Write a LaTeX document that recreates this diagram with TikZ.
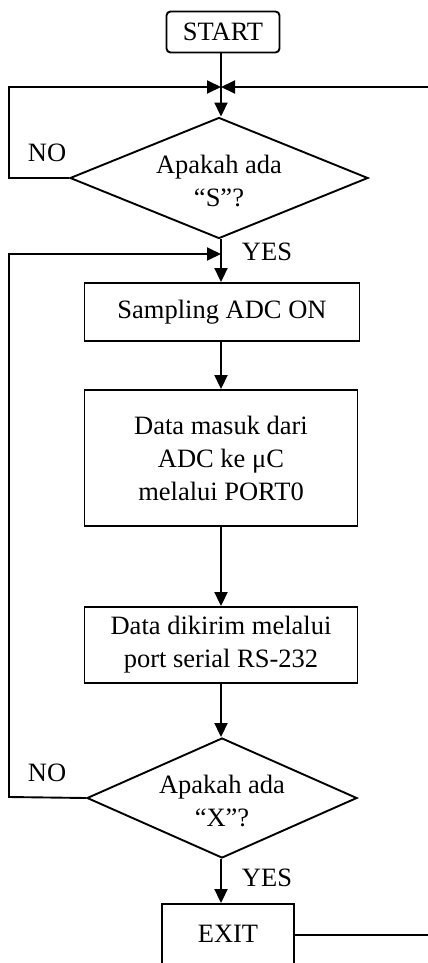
\documentclass[tikz,border=0pt]{standalone}
\usepackage{fontspec}
\setmainfont{Liberation Serif}
\usetikzlibrary{shapes.geometric,arrows.meta}
\begin{document}
\begin{tikzpicture}[x=1pt,y=-1pt,
  line width=1.9pt,
  every node/.style={font=\fontsize{26.5}{33}\selectfont, align=center},
  flow/.style={-{Triangle[length=14pt,width=13pt]}},
  procbox/.style={draw, rectangle, inner sep=0pt},
  decision/.style={draw, diamond, inner sep=0pt},
  lbl/.style={inner sep=0pt}
]
\useasboundingbox (0,0) rectangle (428,963);
\begin{scope}
\clip (0,0) rectangle (428,963);

% terminal and process blocks
\node[procbox, rounded corners=4pt, minimum width=113pt, minimum height=41pt] (start) at (223,32) {START};
\node[decision, minimum width=298pt, minimum height=121pt] (d1) at (219,178) {};
\node at (219,181) {Apakah ada\\“S”?};
\node[procbox, minimum width=275pt, minimum height=58pt] (s1) at (222,312) {Sampling ADC ON};
\node[procbox, minimum width=273pt, minimum height=136pt] (b2) at (221,458) {Data masuk dari\\ADC ke μC\\melalui PORT0};
\node[procbox, minimum width=273pt, minimum height=76pt] (b3) at (221,645) {Data dikirim melalui\\port serial RS-232};
\node[decision, minimum width=270pt, minimum height=120pt] (d2) at (222,798) {};
\node at (222,801) {Apakah ada\\“X”?};
\node[procbox, minimum width=132pt, minimum height=90pt] (exit) at (228,949) {};
\node at (228,934) {EXIT};

% branch labels
\node[lbl, anchor=west] (no1) at (27,153) {NO};
\node[lbl, anchor=west] (yes1) at (241,252) {YES};
\node[lbl, anchor=west] (no2) at (27,773) {NO};
\node[lbl, anchor=west] (yes2) at (241,878) {YES};

% junction points and loop corners
\coordinate (j1) at (221,87);
\coordinate (j2) at (221,254);
\coordinate (l1) at (9,87);
\coordinate (l1b) at (9,178);
\coordinate (r1) at (428,87);
\coordinate (l2) at (9,254);
\coordinate (l2b) at (9,797);
\coordinate (r2) at (428,935);

% main flow
\draw[flow] (start.south -| j1) -- (d1.north -| j1);
\draw[flow] (d1.south -| j2) -- (s1.north -| j2);
\draw[flow] (s1.south -| j2) -- (b2.north -| j2);
\draw[flow] (b2.south -| j2) -- (b3.north -| j2);
\draw[flow] (b3.south -| j2) -- (d2.north -| j2);
\draw[flow] (d2.south -| j2) -- (exit.north -| j2);

% loops back
\draw[flow] (d1.west) -- (l1b) -- (l1) -- (j1);
\draw[flow] (r1) -- (j1);
\draw[flow] (d2.west) -- (l2b) -- (l2) -- (j2);
\draw (exit.east |- r2) -- (r2);
\end{scope}
\end{tikzpicture}
\end{document}
